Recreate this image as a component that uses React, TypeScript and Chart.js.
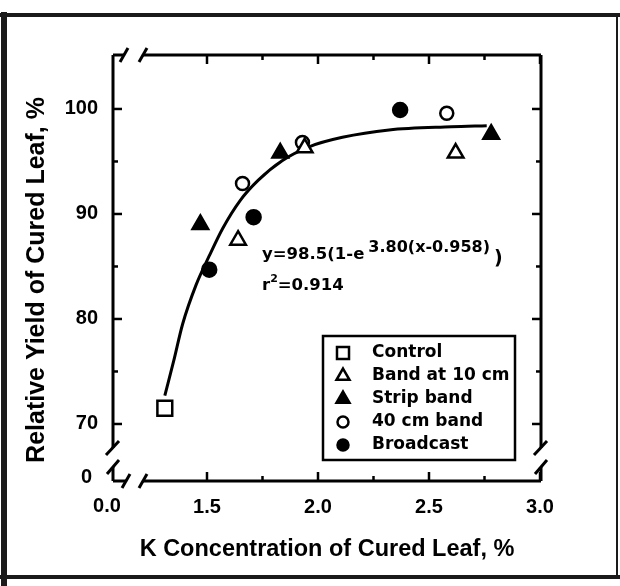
import React, { useEffect, useRef } from "react";
import { Chart, registerables } from "chart.js";
import { drawPoint } from "chart.js/helpers";

Chart.register(...registerables);

// ---- data ----
const controlX = [1.31];
const controlY = [71.5];
const band10X = [1.64, 1.94, 2.62];
const band10Y = [87.5, 96.3, 95.8];
const stripX = [1.47, 1.83, 2.78];
const stripY = [89.0, 95.8, 97.6];
const band40X = [1.66, 1.93, 2.58];
const band40Y = [92.9, 96.8, 99.6];
const broadX = [1.51, 1.71, 2.37];
const broadY = [84.7, 89.7, 99.9];
// fitted curve
const fitX = [1.31, 1.35, 1.39, 1.45, 1.51, 1.57, 1.65, 1.73, 1.84, 1.96, 2.11, 2.32, 2.6, 2.76];
const fitY = [72.7, 76.0, 79.5, 83.2, 86.0, 88.6, 91.3, 93.2, 95.1, 96.4, 97.3, 98.0, 98.3, 98.4];

const xTickValues = [1.5, 2.0, 2.5, 3.0];
const xMinorValues = [1.75, 2.25, 2.75];
const yTickValues = [70, 80, 90, 100];
const yMinorValues = [75, 85, 95];

const seriesLabels = ["Control", "Band at 10 cm", "Strip band", "40 cm band", "Broadcast"];
const xTitle = "K Concentration of Cured Leaf, %";
const yTitle = "Relative Yield of Cured Leaf, %";
const eqMain = "y=98.5(1-e";
const eqExp = "3.80(x-0.958)";
const eqR2 = "=0.914";

const pts = (xs: number[], ys: number[]) => xs.map((x, i) => ({ x, y: ys[i] }));

const TICK_FONT = "Liberation Sans";
const TXT_FONT = "DejaVu Sans";

const decorPlugin = {
  id: "decor",
  beforeDatasetsDraw(chart: any) {
    const { ctx, chartArea: a, scales } = chart;
    const xs = scales.x;
    const ys = scales.y;
    const seg = (x1: number, y1: number, x2: number, y2: number) => {
      ctx.beginPath();
      ctx.moveTo(x1, y1);
      ctx.lineTo(x2, y2);
      ctx.stroke();
    };
    ctx.save();
    // outer scan frame
    ctx.strokeStyle = "#1a1a1a";
    ctx.lineWidth = 6;
    seg(4, 12, 4, 586);
    ctx.lineWidth = 4;
    seg(0, 15, 620, 15);
    seg(0, 577, 620, 577);
    ctx.lineWidth = 2;
    seg(617, 15, 617, 577);

    // plot frame with breaks
    ctx.strokeStyle = "#000";
    ctx.lineWidth = 3;
    const L = a.left, R = a.right, T = a.top, B = a.bottom;
    // left axis
    seg(L, T, L, B - 33);
    seg(L, B - 14, L, B);
    seg(L - 7, B - 26, L + 6, B - 40);
    seg(L - 6, B - 7, L + 6, B - 21);
    // right axis
    seg(R, T, R, B - 33);
    seg(R, B - 14, R, B);
    seg(R - 7, B - 26, R + 6, B - 40);
    seg(R - 6, B - 7, R + 6, B - 21);
    // bottom axis
    seg(L, B, L + 13, B);
    seg(L + 30, B, R, B);
    seg(L + 9, B + 7, L + 17, B - 7);
    seg(L + 26, B + 7, L + 34, B - 7);
    // top axis
    seg(L, T, L + 11, T);
    seg(L + 30, T, R, T);
    seg(L + 7, T + 7, L + 15, T - 7);
    seg(L + 26, T + 7, L + 34, T - 7);

    // inward ticks
    ctx.lineWidth = 2.5;
    yTickValues.forEach((v) => {
      const p = ys.getPixelForValue(v);
      seg(L, p, L + 9, p);
      seg(R, p, R - 9, p);
    });
    yMinorValues.forEach((v) => {
      const p = ys.getPixelForValue(v);
      seg(L, p, L + 5, p);
      seg(R, p, R - 5, p);
    });
    xTickValues.forEach((v) => {
      const p = xs.getPixelForValue(v);
      seg(p, B, p, B - 9);
      seg(p, T, p, T + 9);
    });
    xMinorValues.forEach((v) => {
      const p = xs.getPixelForValue(v);
      seg(p, B, p, B - 5);
      seg(p, T, p, T + 5);
    });

    // broken-axis zero labels
    ctx.fillStyle = "#000";
    ctx.font = `bold 20px "${TICK_FONT}"`;
    ctx.textBaseline = "middle";
    ctx.textAlign = "center";
    ctx.fillText("0.0", L - 6, B + 25);
    ctx.textAlign = "right";
    ctx.fillText("0", L - 21, B - 4);

    // y axis title
    ctx.save();
    ctx.translate(37, 280);
    ctx.rotate(-Math.PI / 2);
    ctx.textAlign = "center";
    ctx.font = `bold 25px "${TICK_FONT}"`;
    ctx.fillText(yTitle, 0, 0);
    ctx.restore();
    ctx.restore();
  },
  afterDatasetsDraw(chart: any) {
    const { ctx } = chart;
    ctx.save();
    // equation
    ctx.fillStyle = "#000";
    ctx.textAlign = "left";
    ctx.textBaseline = "alphabetic";
    ctx.font = `bold 16.5px "${TXT_FONT}"`;
    const x0 = 262;
    ctx.fillText(eqMain, x0, 259);
    const w = ctx.measureText(eqMain).width;
    ctx.font = `bold 16px "${TXT_FONT}"`;
    ctx.fillText(eqExp, x0 + w + 4, 252);
    const w2 = ctx.measureText(eqExp).width;
    ctx.font = `bold 19px "${TXT_FONT}"`;
    ctx.fillText(")", x0 + w + 4 + w2 + 4, 264);
    ctx.font = `bold 16.5px "${TXT_FONT}"`;
    ctx.fillText("r", x0, 290);
    const wr = ctx.measureText("r").width;
    ctx.font = `bold 11px "${TXT_FONT}"`;
    ctx.fillText("2", x0 + wr, 282);
    const w3 = ctx.measureText("2").width;
    ctx.font = `bold 16.5px "${TXT_FONT}"`;
    ctx.fillText(eqR2, x0 + wr + w3, 290);

    // legend box
    const bx = 323, by = 336, bw = 192, bh = 124;
    ctx.fillStyle = "#fff";
    ctx.fillRect(bx, by, bw, bh);
    ctx.strokeStyle = "#000";
    ctx.lineWidth = 2.5;
    ctx.strokeRect(bx, by, bw, bh);
    const rows = [353, 376, 399, 422, 445];
    const legendRadius: Record<string, number> = { rect: 8.5, triangle: 7.5, circle: 5.5 };
    let k = 0;
    chart.data.datasets.forEach((ds: any) => {
      if (ds.isFit) return;
      const yy = rows[k++];
      ctx.fillStyle = ds.backgroundColor;
      ctx.strokeStyle = ds.borderColor;
      ctx.lineWidth = 2.5;
      drawPoint(ctx, { pointStyle: ds.pointStyle, radius: legendRadius[ds.pointStyle], borderWidth: 2.5, rotation: 0 } as any, 343, yy);
      ctx.fillStyle = "#000";
      ctx.font = `bold 17px "${TXT_FONT}"`;
      ctx.textBaseline = "middle";
      ctx.fillText(ds.label, 372, yy);
    });
    ctx.restore();
  },
};

export default function App() {
  const ref = useRef<HTMLCanvasElement>(null);
  useEffect(() => {
    if (!ref.current) return;
    const mk = (label: string, xs: number[], ys: number[], style: string, filled: boolean, r: number) => ({
      label,
      data: pts(xs, ys),
      pointStyle: style,
      pointRadius: r,
      pointBorderWidth: 2.5,
      backgroundColor: filled ? "#000" : "#fff",
      borderColor: "#000",
      pointBackgroundColor: filled ? "#000" : "#fff",
      pointBorderColor: "#000",
      showLine: false,
      order: 0,
    });
    const chart = new Chart(ref.current, {
      type: "scatter",
      data: {
        datasets: [
          mk(seriesLabels[0], controlX, controlY, "rect", false, 10.5),
          mk(seriesLabels[1], band10X, band10Y, "triangle", false, 9),
          mk(seriesLabels[2], stripX, stripY, "triangle", true, 9),
          mk(seriesLabels[3], band40X, band40Y, "circle", false, 6.5),
          mk(seriesLabels[4], broadX, broadY, "circle", true, 7),
          {
            label: "fit",
            isFit: true,
            data: pts(fitX, fitY),
            showLine: true,
            borderColor: "#000",
            borderWidth: 3,
            pointRadius: 0,
            cubicInterpolationMode: "monotone",
            order: 10,
          } as any,
        ],
      },
      options: {
        responsive: false,
        animation: false,
        devicePixelRatio: 1,
        layout: { padding: { top: 55, right: 79, left: 0, bottom: 0 } },
        plugins: { legend: { display: false }, tooltip: { enabled: false } },
        scales: {
          x: {
            type: "linear",
            min: 1.0766,
            max: 3.0045,
            grid: { display: false, drawTicks: false },
            border: { display: false },
            afterBuildTicks: (s: any) => {
              s.ticks = xTickValues.map((v) => ({ value: v }));
            },
            afterFit: (s: any) => {
              s.height = 105;
            },
            ticks: {
              color: "#000",
              padding: 14,
              maxRotation: 0,
              autoSkip: false,
              font: { family: TICK_FONT, size: 20, weight: "bold" },
              callback: (v: any) => Number(v).toFixed(1),
            },
            title: {
              display: true,
              text: xTitle,
              color: "#000",
              font: { family: TICK_FONT, size: 23.5, weight: "bold" },
              padding: { top: 0, bottom: 22 },
            },
          },
          y: {
            type: "linear",
            min: 64.57,
            max: 105.14,
            grid: { display: false, drawTicks: false },
            border: { display: false },
            afterBuildTicks: (s: any) => {
              s.ticks = yTickValues.map((v) => ({ value: v }));
            },
            afterFit: (s: any) => {
              s.width = 113;
            },
            ticks: {
              color: "#000",
              padding: 15,
              autoSkip: false,
              font: { family: TICK_FONT, size: 20, weight: "bold" },
              callback: (v: any) => String(v),
            },
            title: { display: false, text: yTitle },
          },
        },
      },
      plugins: [decorPlugin],
    });
    return () => chart.destroy();
  }, []);
  return (
    <div style={{ position: "fixed", left: 0, top: 0, width: 620, height: 586, background: "#fff" }}>
      <canvas ref={ref} width={620} height={586} style={{ display: "block", width: 620, height: 586 }} />
    </div>
  );
}
